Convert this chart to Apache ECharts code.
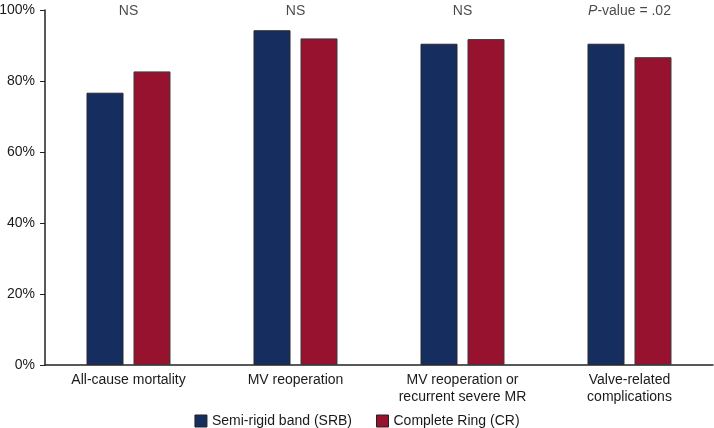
<!DOCTYPE html>
<html><head><meta charset="utf-8">
<script src="https://cdn.jsdelivr.net/npm/echarts@6/dist/echarts.min.js"></script>
<style>html,body{margin:0;padding:0;background:#fff}#c{width:714px;height:428px}</style>
</head><body><div id="c"></div>
<script>
const categories = ['All-cause mortality', 'MV reoperation', 'MV reoperation or\nrecurrent severe MR', 'Valve-related\ncomplications'];
const srbValues = [76.7, 94.3, 90.5, 90.5];
const crValues = [82.7, 92.0, 91.8, 86.7];
const pLabels = ['NS', 'NS', 'NS', '{i|P}-value = .02'];
const yTicks = [0, 20, 40, 60, 80, 100];
const seriesNames = ['Semi-rigid band (SRB)', 'Complete Ring (CR)'];

const font = 'Liberation Sans, Arial, Helvetica, sans-serif';
const txt = '#1a1a1a';
const chart = echarts.init(document.getElementById('c'));
chart.setOption({
  animation: false,
  textStyle: { fontFamily: font },
  grid: { left: 45, right: 1, top: 10, bottom: 63, containLabel: false, outerBoundsMode: 'none' },
  legend: {
    bottom: 0, left: 'center', itemWidth: 12, itemHeight: 12, itemGap: 24, padding: 0,
    icon: 'rect',
    itemStyle: { borderColor: '#222', borderWidth: 1 },
    textStyle: { fontSize: 14, color: txt, fontFamily: font },
    data: seriesNames
  },
  xAxis: [{
    type: 'category', data: categories,
    axisLine: { lineStyle: { color: '#222', width: 1.5 } },
    axisTick: { show: false },
    axisLabel: { fontSize: 14, color: txt, margin: 7, lineHeight: 17, fontFamily: font }
  }, {
    type: 'category', data: categories, show: false, gridIndex: 0
  }],
  yAxis: {
    type: 'value', min: 0, max: 100, interval: 20,
    axisLine: { show: true, lineStyle: { color: '#222', width: 1.5 } },
    axisTick: { show: true, length: 5, lineStyle: { color: '#222' } },
    splitLine: { show: false },
    axisLabel: { formatter: v => yTicks.includes(v) ? v + '%' : '', fontSize: 14, color: txt, margin: 10, fontFamily: font }
  },
  series: [{
    name: seriesNames[0], type: 'bar', data: srbValues, barWidth: 37, barGap: '27%',
    itemStyle: { color: '#152d5f', borderColor: '#2a2a2a', borderWidth: 1 }
  }, {
    name: seriesNames[1], type: 'bar', data: crValues, barWidth: 37,
    itemStyle: { color: '#97122f', borderColor: '#3a3a3a', borderWidth: 1 }
  }, {
    type: 'scatter', xAxisIndex: 1, symbolSize: 0, silent: true,
    data: categories.map((c, i) => ({ value: [i, 99.6], label: { formatter: pLabels[i] } })),
    label: {
      show: true, position: 'inside', fontSize: 14, color: txt, fontFamily: font,
      rich: { i: { fontStyle: 'italic', fontSize: 14, color: txt, fontFamily: font } }
    }
  }]
});
</script></body></html>
